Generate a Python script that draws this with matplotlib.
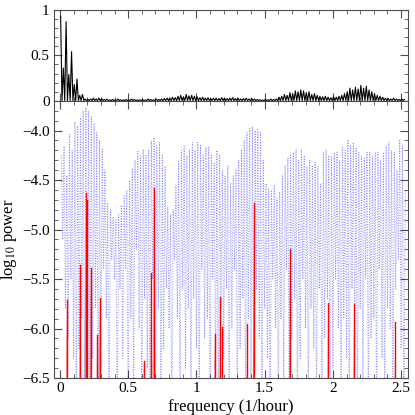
import numpy as np
import matplotlib.pyplot as plt
from matplotlib.ticker import MultipleLocator

plt.rcParams['font.family'] = ['Liberation Serif', 'DejaVu Serif']
plt.rcParams['mathtext.fontset'] = 'stix'

# --- data ---
# top panel: normalised window, one peak value per 0.02 step starting at 0.005
top_start, top_step = 0.005, 0.02
top_peaks = [
    0.93, 0.36, 0.87, 0.29, 0.54, 0.18, 0.24, 0.06, 0.07, 0.02,
    0.015, 0.02, 0.03, 0.02, 0.03, 0.025, 0.015, 0.02, 0.01, 0.015,
    0.01, 0.02, 0.012, 0.01, 0.015, 0.01, 0.02, 0.015, 0.01, 0.012,
    0.015, 0.01, 0.02, 0.015, 0.012, 0.02, 0.015, 0.02, 0.025, 0.03,
    0.03, 0.04, 0.035, 0.05, 0.06, 0.045, 0.07, 0.055, 0.06, 0.05,
    0.045, 0.035, 0.04, 0.03, 0.035, 0.025, 0.03, 0.03, 0.025, 0.035,
    0.03, 0.025, 0.03, 0.035, 0.025, 0.03, 0.02, 0.025, 0.03, 0.02,
    0.025, 0.02, 0.015, 0.012, 0.01, 0.015, 0.012, 0.02, 0.015, 0.02,
    0.04, 0.05, 0.07, 0.06, 0.09, 0.08, 0.11, 0.10, 0.12, 0.11,
    0.09, 0.10, 0.07, 0.08, 0.06, 0.05, 0.045, 0.05, 0.04, 0.035,
    0.045, 0.04, 0.05, 0.06, 0.08, 0.10, 0.14, 0.12, 0.15, 0.13,
    0.17, 0.14, 0.16, 0.12, 0.10, 0.08, 0.06, 0.05, 0.04, 0.03,
    0.025, 0.02, 0.03, 0.02, 0.015, 0.02, 0.015,
]
top_troughs = 0.003

# bottom panel: log10 power of the model, peak / trough per cycle
blue_start, blue_step = 0.01, 0.02
blue_peaks = [
    -4.25, -4.16, -4.45, -4.04, -4.20, -3.91, -3.95, -3.87, -3.80, -3.77,
    -3.80, -3.86, -3.92, -4.02, -4.10, -4.19, -4.40, -4.73, -4.80, -4.87,
    -4.90, -4.85, -4.75, -4.66, -4.61, -4.50, -4.38, -4.30, -4.21, -4.25,
    -4.19, -4.25, -4.19, -4.10, -4.07, -4.15, -4.12, -4.25, -4.36, -4.77,
    -4.85, -4.80, -4.55, -4.31, -4.20, -4.16, -4.25, -4.19, -4.12, -4.20,
    -4.12, -4.15, -4.25, -4.17, -4.16, -4.25, -4.33, -4.20, -4.24, -4.40,
    -4.46, -4.35, -4.53, -4.45, -4.39, -4.30, -4.19, -4.10, -4.02, -3.98,
    -3.96, -4.00, -3.99, -4.02, -4.30, -4.53, -4.58, -4.60, -4.55, -4.68,
    -4.62, -4.45, -4.35, -4.28, -4.25, -4.22, -4.19, -4.30, -4.19, -4.25,
    -4.36, -4.30, -4.36, -4.32, -4.36, -4.53, -4.22, -4.19, -4.25, -4.26,
    -4.22, -4.22, -4.30, -4.17, -4.20, -4.09, -4.15, -4.12, -4.18, -4.22,
    -4.25, -4.28, -4.22, -4.22, -4.26, -4.22, -4.22, -4.30, -4.22, -4.15,
    -4.12, -4.20, -4.22, -4.40, -4.09, -4.15, -4.60,
]
blue_troughs = [
    -5.1, -5.8, -6.1, -5.5, -6.3, -7.0, -6.2, -5.9, -7.0, -6.6,
    -7.0, -6.3, -5.8, -7.0, -6.4, -5.4, -5.9, -7.0, -5.3, -5.5,
    -7.0, -5.6, -6.3, -5.4, -7.0, -5.9, -6.6, -5.2, -6.0, -7.0,
    -5.7, -6.4, -7.0, -5.5, -6.9, -5.8, -7.0, -6.2, -5.6, -6.0,
    -7.0, -5.3, -5.9, -7.0, -5.6, -6.4, -5.8, -7.0, -5.7, -6.2,
    -7.0, -5.4, -6.1, -5.9, -7.0, -5.5, -6.6, -7.0, -5.8, -6.3,
    -5.6, -7.0, -6.0, -5.4, -7.0, -6.2, -5.7, -7.0, -5.9, -6.5,
    -7.0, -5.6, -6.1, -7.0, -5.8, -6.3, -7.0, -5.5, -6.0, -7.0,
    -5.9, -6.6, -5.4, -7.0, -6.1, -5.7, -7.0, -6.3, -5.5, -6.0,
    -7.0, -5.8, -6.2, -7.0, -5.6, -7.0, -6.1, -5.7, -7.0, -6.4,
    -5.5, -6.0, -7.0, -5.9, -6.3, -7.0, -5.6, -6.2, -7.0, -5.8,
    -6.6, -5.5, -7.0, -6.1, -5.9, -7.0, -5.4, -6.3, -7.0, -5.8,
    -6.0, -7.0, -5.6, -5.3, -6.2, -7.0,
]

# observed peaks (red)
red_freq = [0.049, 0.147, 0.188, 0.198, 0.225, 0.273, 0.290, 0.613, 0.670,
            0.687, 1.134, 1.175, 1.190, 1.373, 1.420, 1.686, 1.965, 2.155, 2.458]
red_top = [-5.71, -5.36, -4.63, -4.70, -5.39, -6.07, -5.69, -6.33, -5.44,
           -4.58, -6.05, -5.68, -5.98, -5.95, -4.73, -5.20, -5.74, -5.75, -5.93]


def zigzag(start, step, peaks, troughs):
    f, v = [], []
    for i, p in enumerate(peaks):
        f.append(start + i * step)
        v.append(p)
        if i < len(peaks) - 1:
            t = troughs[i] if np.ndim(troughs) else troughs
            f.append(start + (i + 0.5) * step)
            v.append(t)
    return np.array(f), np.array(v)


fig = plt.figure(figsize=(4.15, 4.15), dpi=100)
ax1 = fig.add_axes([0.130, 0.757, 0.853, 0.219])
ax2 = fig.add_axes([0.130, 0.089, 0.853, 0.668])

tf, tv = zigzag(top_start, top_step, top_peaks, top_troughs)
ax1.plot(tf, tv, color='black', lw=0.8)
ax1.set_ylim(0, 1)
ax1.set_yticks([0, 0.5, 1])
ax1.set_yticklabels(['0', '0.5', '1'])
ax1.yaxis.set_minor_locator(MultipleLocator(0.1))
ax1.tick_params(labelbottom=False)

bf, bv = zigzag(blue_start, blue_step, blue_peaks, blue_troughs)
ax2.plot(bf, bv, color='blue', ls=':', lw=0.7, alpha=0.45)

w = 0.009
for f, top in zip(red_freq, red_top):
    ax2.fill([f - w, f, f + w], [-7, top, -7], color='red', alpha=0.4, lw=0)
    ax2.plot([f, f], [-7, top], color='red', lw=1)

ax2.set_ylim(-6.5, -3.7)
ax2.set_yticks([-6.5, -6, -5.5, -5, -4.5, -4])
ax2.yaxis.set_minor_locator(MultipleLocator(0.1))
ax2.set_xticks([0, 0.5, 1, 1.5, 2, 2.5])
ax2.set_xticklabels(['0', '0.5', '1', '1.5', '2', '2.5'])
ax2.set_xlabel('frequency (1/hour)', fontsize=12)
ax2.set_ylabel(r'log$_{10}$ power', fontsize=12)
ax2.xaxis.set_label_coords(0.5, -0.075)
ax2.yaxis.set_label_coords(-0.098, 0.5)

for ax in (ax1, ax2):
    ax.set_xlim(-0.044, 2.55)
    ax.xaxis.set_minor_locator(MultipleLocator(0.1))
    ax.tick_params(which='both', direction='in', top=True, right=True,
                   labelsize=11, color='0.3')
    ax.tick_params(which='major', length=6, pad=3)
    ax.tick_params(which='minor', length=3)
    for s in ax.spines.values():
        s.set_color('0.3')

fig.savefig('out.png', dpi=100)
